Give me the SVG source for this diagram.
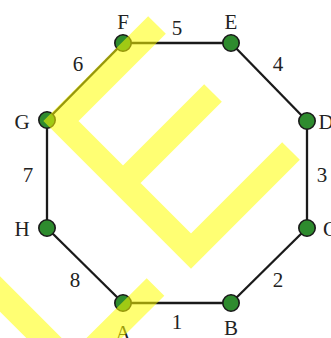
<svg xmlns="http://www.w3.org/2000/svg" width="331" height="338" viewBox="0 0 331 338">
<defs>
<style>
.edge{stroke:#1a1a1a;stroke-width:2.3;fill:none}
.node circle{fill:#2e8b2e;stroke:#1a1a1a;stroke-width:1.6}
.lbl{font-family:"Liberation Serif","Times New Roman",serif;font-size:21px;fill:#222;text-anchor:middle}
.wm{fill:none;stroke:#ffff00;stroke-width:25;stroke-linejoin:miter;stroke-linecap:butt}
</style>
</defs>
<rect width="331" height="338" fill="#fff"/>
<g id="edges">
<line class="edge" x1="123" y1="303" x2="231" y2="303"/>
<line class="edge" x1="231" y1="303" x2="307" y2="228"/>
<line class="edge" x1="307" y1="228" x2="307" y2="121"/>
<line class="edge" x1="307" y1="121" x2="231" y2="43"/>
<line class="edge" x1="231" y1="43" x2="123" y2="43"/>
<line class="edge" x1="123" y1="43" x2="47" y2="120"/>
<line class="edge" x1="47" y1="120" x2="47" y2="228"/>
<line class="edge" x1="47" y1="228" x2="123" y2="303"/>
<text class="lbl" x="177" y="329">1</text>
<text class="lbl" x="278" y="287">2</text>
<text class="lbl" x="322" y="182">3</text>
<text class="lbl" x="278" y="71">4</text>
<text class="lbl" x="177" y="35">5</text>
<text class="lbl" x="78" y="71">6</text>
<text class="lbl" x="28" y="182">7</text>
<text class="lbl" x="75" y="287">8</text>
</g>
<g id="A" class="node"><circle cx="123" cy="303" r="8.2"/><text class="lbl" x="123" y="340">A</text></g>
<g id="B" class="node"><circle cx="231" cy="303" r="8.2"/><text class="lbl" x="231" y="335">B</text></g>
<g id="C" class="node"><circle cx="307" cy="228" r="8.2"/><text class="lbl" x="330" y="236">C</text></g>
<g id="D" class="node"><circle cx="307" cy="121" r="8.2"/><text class="lbl" x="326" y="129">D</text></g>
<g id="E" class="node"><circle cx="231" cy="43" r="8.2"/><text class="lbl" x="231" y="29">E</text></g>
<g id="F" class="node"><circle cx="123" cy="43" r="8.2"/><text class="lbl" x="123" y="29">F</text></g>
<g id="G" class="node"><circle cx="47" cy="120" r="8.2"/><text class="lbl" x="22" y="129">G</text></g>
<g id="H" class="node"><circle cx="47" cy="228" r="8.2"/><text class="lbl" x="22" y="236">H</text></g>
<g id="watermark" opacity="0.55">
<path class="wm" d="M157,25 L61,121 L191,251 L291,151 M123,183 L213,93 M-30,264 L74,368 L155.5,287"/>
</g>
</svg>
